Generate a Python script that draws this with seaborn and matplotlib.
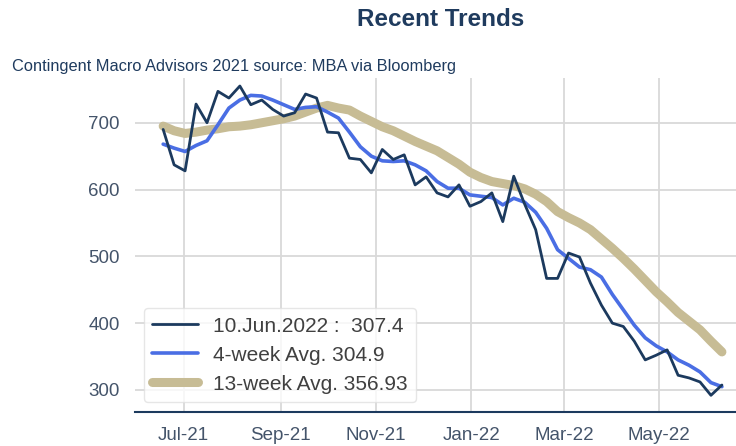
import matplotlib
matplotlib.use('Agg')
import matplotlib.pyplot as plt
import matplotlib.dates as mdates
import seaborn as sns
import pandas as pd

# weekly dates, last one is 10 Jun 2022
weeks = pd.date_range(start="2021-06-18", end="2022-06-10", freq="7D")

# weekly index
index_values = [690, 637, 628, 728, 700, 747, 737, 755, 727, 734,
                720, 710, 715, 743, 737, 686, 685, 647, 645, 625,
                660, 645, 652, 607, 619, 595, 589, 607, 575, 582,
                595, 552, 620, 578, 540, 467, 467, 505, 499, 460,
                427, 400, 395, 373, 345, 352, 360, 322, 318, 312,
                292, 307.4]

avg_4wk = [668, 662, 657, 666, 673, 697, 722, 734, 741, 740,
           734, 727, 720, 723, 724, 716, 707, 686, 664, 650,
           643, 642, 643, 637, 628, 612, 602, 602, 592, 590,
           588, 577, 587, 581, 566, 542, 510, 497, 484, 480,
           469, 443, 420, 397, 378, 366, 357, 345, 337, 327,
           311, 304.9]

avg_13wk = [695, 688, 684, 686, 689, 691, 694, 695, 697, 700,
            703, 706, 710, 716, 722, 726, 722, 719, 710, 702,
            694, 688, 680, 672, 665, 658, 648, 638, 626, 618,
            612, 609, 606, 601, 593, 582, 567, 558, 550, 540,
            526, 512, 497, 481, 464, 447, 432, 416, 403, 390,
            373, 356.93]

series_labels = ["10.Jun.2022 :  307.4", "4-week Avg. 304.9", "13-week Avg. 356.93"]
y_ticks = [300, 400, 500, 600, 700]
x_ticks = ["2021-07-01", "2021-09-01", "2021-11-01", "2022-01-01", "2022-03-01", "2022-05-01"]

df = pd.DataFrame({"week": weeks, "idx": index_values,
                   "a4": avg_4wk, "a13": avg_13wk})

sns.set_style("whitegrid")
plt.rcParams['font.family'] = ['Liberation Sans', 'DejaVu Sans']

navy = "#1c3a5e"
fig = plt.figure(figsize=(7.36, 4.46), dpi=100)
ax = fig.add_axes([135 / 736, 1 - 412 / 446, 1 - 135 / 736, (412 - 78) / 446])

# thick one first so it sits underneath
sns.lineplot(data=df, x="week", y="a13", ax=ax, color="#c7bc95", linewidth=6.5,
             solid_capstyle="round", label=series_labels[2], zorder=2)
sns.lineplot(data=df, x="week", y="a4", ax=ax, color="#4a6ee4", linewidth=2.6,
             label=series_labels[1], zorder=3)
sns.lineplot(data=df, x="week", y="idx", ax=ax, color=navy, linewidth=2.0,
             label=series_labels[0], zorder=4)

ax.set_xlim(pd.Timestamp("2021-05-31"), pd.Timestamp("2022-06-19"))
ax.set_ylim(267, 767)
ax.set_yticks(y_ticks)
ax.set_xticks(pd.to_datetime(x_ticks))
ax.xaxis.set_major_formatter(mdates.DateFormatter("%b-%y"))
ax.set_xlabel("")
ax.set_ylabel("")
ax.grid(True, color="#d9d9d9", linewidth=1.3)
for side in ["left", "right", "top"]:
    ax.spines[side].set_visible(False)
ax.spines["bottom"].set_color(navy)
ax.spines["bottom"].set_linewidth(1.5)
ax.tick_params(axis="both", labelsize=13.5, colors="#44546a", length=0, pad=11)
ax.tick_params(axis="x", pad=11)

handles, labels = ax.get_legend_handles_labels()
order = [2, 1, 0]
leg = ax.legend([handles[i] for i in order], [labels[i] for i in order],
                loc="lower left", bbox_to_anchor=(0.015, 0.03), borderaxespad=0,
                fontsize=15, frameon=True, fancybox=True, handlelength=2.2,
                handletextpad=0.7, labelspacing=0.48, borderpad=0.4)
leg.get_frame().set_edgecolor("#e0e0e0")
for t in leg.get_texts():
    t.set_color("#404040")

fig.text(441 / 736, 1 - 19 / 446, "Recent Trends", ha="center", va="center",
         fontsize=17.5, fontweight="bold", color="#1f3b5e")
fig.text(12 / 736, 1 - 66 / 446, "Contingent Macro Advisors 2021 source: MBA via Bloomberg",
         ha="left", va="center", fontsize=11.8, color="#1f3b5e")

fig.savefig("out.png", dpi=100)
